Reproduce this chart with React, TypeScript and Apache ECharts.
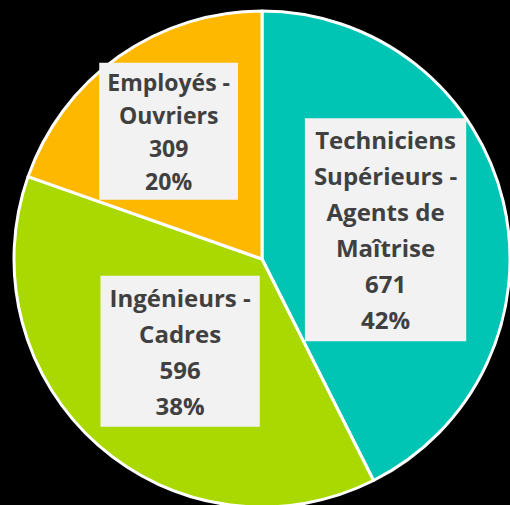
import React, { useEffect, useRef } from "react";
import * as echarts from "echarts";

const categories = [
  "Techniciens\nSupérieurs -\nAgents de\nMaîtrise",
  "Ingénieurs -\nCadres",
  "Employés -\nOuvriers",
];
const values = [671, 596, 309];
const percentLabels = [42, 38, 20];
const colors = ["#00C4B4", "#A9D900", "#FFB800"];

export default function App() {
  const ref = useRef<HTMLDivElement>(null);
  useEffect(() => {
    if (!ref.current) return;
    const chart = echarts.init(ref.current, null, { renderer: "svg" });
    chart.setOption({
      animation: false,
      backgroundColor: "#000000",
      series: [
        {
          type: "pie",
          center: [262, 259],
          radius: 248,
          startAngle: 90,
          clockwise: true,
          avoidLabelOverlap: false,
          itemStyle: { borderColor: "#ffffff", borderWidth: 3 },
          label: {
            show: true,
            position: "inside",
            formatter: (p: any) =>
              `${p.name}\n${p.value}\n${percentLabels[p.dataIndex]}%`,
            fontFamily: "Open Sans",
            fontWeight: "bold",
            fontSize: 24,
            lineHeight: 36,
            color: "#404040",
            backgroundColor: "#F2F2F2",
            padding: [4, 9, 3, 9],
            align: "center",
          },
          labelLayout: (p: any) =>
            p.dataIndex === 2 ? { dx: -20, dy: -24 } : p.dataIndex === 1 ? { dx: 2, dy: -3 } : {},
          labelLine: { show: false },
          emphasis: { disabled: true },
          data: categories.map((c, i) => ({
            name: c,
            value: values[i],
            itemStyle: { color: colors[i] },
            label:
              i === 2
                ? { fontSize: 23, lineHeight: 33, padding: [3, 8, 2, 8] }
                : undefined,
          })),
        },
      ],
    });
    return () => chart.dispose();
  }, []);
  return (
    <div
      ref={ref}
      style={{ position: "absolute", left: 0, top: 0, width: 510, height: 505 }}
    />
  );
}
